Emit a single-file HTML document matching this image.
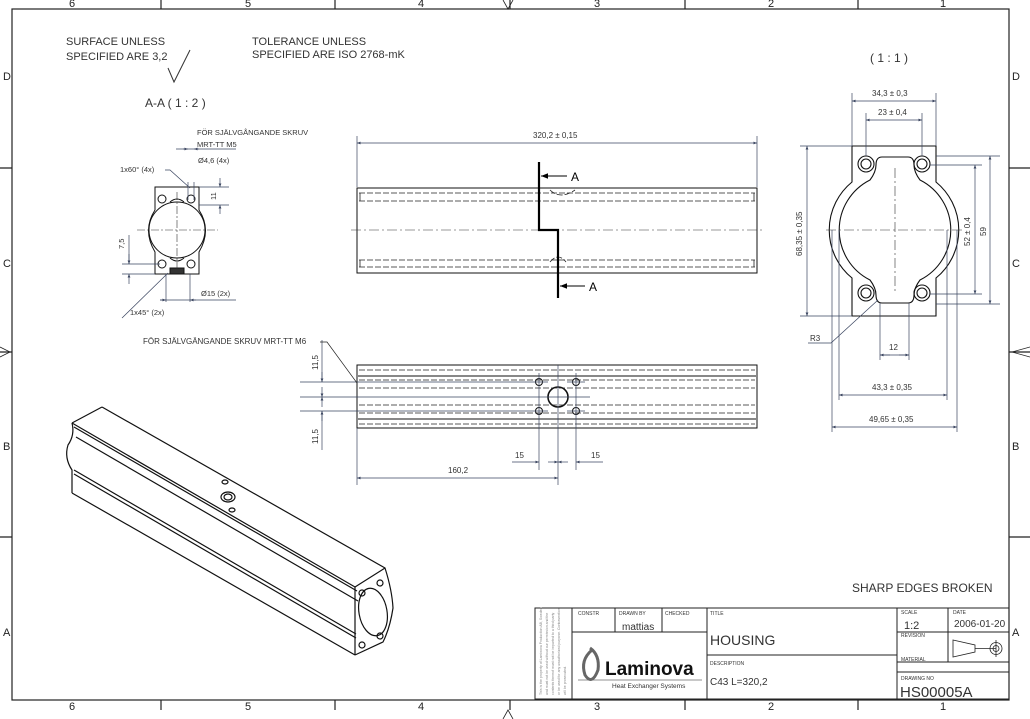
<!DOCTYPE html>
<html><head><meta charset="utf-8"><style>
html,body{margin:0;padding:0;background:#fff;}
svg{display:block;font-family:"Liberation Sans",Arial,sans-serif;}
</style></head><body>
<svg width="1030" height="719" viewBox="0 0 1030 719" xmlns="http://www.w3.org/2000/svg">
<defs>
<marker id="ar" viewBox="0 0 10 10" refX="10" refY="5" markerWidth="7" markerHeight="5" orient="auto-start-reverse"><path d="M0,1 L10,5 L0,9 z" fill="#3a4560"/></marker>
<marker id="ab" viewBox="0 0 10 10" refX="10" refY="5" markerWidth="9" markerHeight="7" orient="auto"><path d="M0,1 L10,5 L0,9 z" fill="#000"/></marker>
</defs>
<rect width="1030" height="719" fill="#fff"/>
<!-- frame -->
<g stroke="#222" stroke-width="1.2" fill="none">
<rect x="12" y="9" width="997" height="691"/>
<path d="M161,0V9 M335,0V9 M510,0V9 M685,0V9 M858,0V9 M161,700V710 M335,700V710 M510,700V710 M685,700V710 M858,700V710 M0,168H12 M0,352H12 M0,537H12 M1009,168H1030 M1009,352H1030 M1009,537H1030"/>
<path d="M503,0 L508,9 L513,0 M503,719 L508,710 L513,719 M0,347 L10,352 L0,357 M1030,347 L1012,352 L1030,357" stroke-width="0.8"/>
</g>
<g font-size="11" fill="#222">
<text x="69" y="7">6</text><text x="245" y="7">5</text><text x="418" y="7">4</text><text x="594" y="7">3</text><text x="768" y="7">2</text><text x="940" y="7">1</text>
<text x="69" y="710">6</text><text x="245" y="710">5</text><text x="418" y="710">4</text><text x="594" y="710">3</text><text x="768" y="710">2</text><text x="940" y="710">1</text>
<text x="3" y="80">D</text><text x="3" y="267">C</text><text x="3" y="450">B</text><text x="3" y="636">A</text>
<text x="1012" y="80">D</text><text x="1012" y="267">C</text><text x="1012" y="450">B</text><text x="1012" y="636">A</text>
</g>
<!-- header notes -->
<g font-size="11" fill="#333">
<text x="66" y="45">SURFACE UNLESS</text>
<text x="66" y="60">SPECIFIED ARE  3,2</text>
<text x="252" y="45">TOLERANCE UNLESS</text>
<text x="252" y="58">SPECIFIED ARE  ISO 2768-mK</text>
<text x="145" y="107" font-size="12">A-A  ( 1 : 2 )</text>
<text x="870" y="62" font-size="12">( 1 : 1 )</text>
<text x="852" y="592" font-size="12">SHARP EDGES BROKEN</text>
</g>
<path d="M168,68 L174,82 L190,50" stroke="#333" fill="none"/>

<!-- ===== Section A-A ===== -->
<g stroke="#111" stroke-width="1" fill="none">
<path d="M155,187 H199 V210 Q212,230 199,252 V274 H155 V252 Q142,230 155,210 Z"/>
<circle cx="177" cy="230" r="28"/>
<path d="M170,202 Q177,196 184,202 M170,258 Q177,264 184,258 M170,268 H184"/>
<circle cx="162" cy="199" r="4"/><circle cx="191" cy="199" r="4"/>
<circle cx="162" cy="264" r="4"/><circle cx="191" cy="264" r="4"/>
<path d="M170,268 H184 V274 H170Z" fill="#333"/>
</g>
<g stroke="#333" stroke-width="0.6" stroke-dasharray="8,2,2,2" fill="none">
<path d="M137,230 H218 M177,192 V270"/>
</g>
<g stroke="#3a4560" stroke-width="0.7" fill="none">
<path d="M188,182 V200 M194,182 V200 M178,149 H236 M176,149 L188,149" />
<path d="M183,149 H188" marker-end="url(#ar)"/><path d="M199,149 H194" marker-end="url(#ar)"/>
<path d="M199,187 H229 M199,205 H229"/>
<path d="M220,178 V187" marker-end="url(#ar)"/><path d="M220,214 V205" marker-end="url(#ar)"/>
<path d="M165,170 H170 L190,188"/>
<path d="M122,264 H160 M122,274 H155 M129,235 V264" />
<path d="M129,254 V264" marker-end="url(#ar)"/><path d="M129,284 V274" marker-end="url(#ar)"/>
<path d="M166,274 V302 M190,274 V302 M160,300 H236"/>
<path d="M160,300 H166" marker-end="url(#ar)"/><path d="M196,300 H190" marker-end="url(#ar)"/>
<path d="M168,273 L122,318"/>
</g>
<g font-size="7.5" fill="#333">
<text x="197" y="135">FÖR SJÄLVGÅNGANDE SKRUV</text>
<text x="197" y="147">MRT-TT M5</text>
<text x="198" y="163">Ø4,6 (4x)</text>
<text x="120" y="172">1x60° (4x)</text>
<text x="201" y="296">Ø15 (2x)</text>
<text x="130" y="315">1x45° (2x)</text>
<text transform="translate(216,200) rotate(-90)">11</text>
<text transform="translate(124,249) rotate(-90)">7,5</text>
</g>

<!-- ===== Top view ===== -->
<g stroke="#111" stroke-width="1" fill="none">
<rect x="357" y="188" width="400" height="85"/>
</g>
<g stroke="#222" stroke-width="0.8" stroke-dasharray="6,2" fill="none">
<path d="M359,193 H755 M359,201 H755 M359,260 H755 M359,267 H755"/>
<path d="M360,193 V201 M754,193 V201 M360,260 V267 M754,260 V267" stroke-dasharray="none"/>
<path d="M550,190 Q560,200 575,190 M550,262 Q558,252 566,262"/>
</g>
<path d="M351,230 H765" stroke="#333" stroke-width="0.6" stroke-dasharray="10,3,2,3"/>
<path d="M539,162 V230 H558 V298" stroke="#000" stroke-width="2.2" fill="none"/>
<path d="M567,176 H541" stroke="#000" stroke-width="1" marker-end="url(#ab)"/>
<path d="M585,286 H560" stroke="#000" stroke-width="1" marker-end="url(#ab)"/>
<text x="571" y="181" font-size="12">A</text>
<text x="589" y="291" font-size="12">A</text>
<g stroke="#3a4560" stroke-width="0.7" fill="none">
<path d="M357,136 V187 M757,136 V187"/>
<path d="M457,143 H357" marker-end="url(#ar)"/><path d="M657,143 H757" marker-end="url(#ar)"/>
<path d="M457,143 H657"/>
</g>
<text x="533" y="138" font-size="8" fill="#333">320,2 ± 0,15</text>

<!-- ===== Bottom view ===== -->
<g stroke="#111" stroke-width="1" fill="none">
<rect x="357" y="365" width="400" height="63"/>
<path d="M358,376 H756 M358,419 H756"/>
<circle cx="558" cy="397" r="10" stroke-width="1.6"/>
<circle cx="539" cy="382" r="3.5"/><circle cx="576" cy="382" r="3.5"/>
<circle cx="539" cy="411" r="3.5"/><circle cx="576" cy="411" r="3.5"/>
</g>
<g stroke="#222" stroke-width="0.8" stroke-dasharray="6,2" fill="none">
<path d="M359,370 H755 M359,380 H755 M359,388 H755 M359,405 H755 M359,413 H755 M359,424 H755"/>
</g>
<g stroke="#3a4560" stroke-width="0.7" fill="none">
<path d="M300,382 H535 M300,397 H590 M300,411 H535 M530,382 H548 M567,382 H585 M530,411 H548 M567,411 H585 M539,373 V470 M576,373 V470 M558,365 V485 M357,428 V485"/>
<path d="M322,340 V382 M322,411 V450"/>
<path d="M322,372 V382" marker-end="url(#ar)"/><path d="M322,387 V397" marker-end="url(#ar)"/>
<path d="M322,407 V397" marker-end="url(#ar)"/><path d="M322,421 V411" marker-end="url(#ar)"/>
<path d="M512,462 H539" marker-end="url(#ar)"/><path d="M548,462 H558" marker-end="url(#ar)"/>
<path d="M568,462 H558" marker-end="url(#ar)"/><path d="M603,462 H576" marker-end="url(#ar)"/>
<path d="M455,478 H357" marker-end="url(#ar)"/><path d="M455,478 H558" marker-end="url(#ar)"/>
<path d="M320,342 H327 L357,383" stroke="#222"/>
</g>
<g font-size="8" fill="#333">
<text x="143" y="344">FÖR SJÄLVGÄNGANDE SKRUV MRT-TT M6</text>
<text transform="translate(318,370) rotate(-90)">11,5</text>
<text transform="translate(318,444) rotate(-90)">11,5</text>
<text x="515" y="458">15</text><text x="591" y="458">15</text>
<text x="448" y="473">160,2</text>
</g>

<!-- ===== Right end view ===== -->
<g stroke="#111" stroke-width="1.1" fill="none">
<path d="M852,146 H936 V182 A62,62 0 0 1 936,278 V316 H852 V278 A62,62 0 0 1 852,182 Z"/>
<path d="M882,157 Q876,157 876,165 Q876,172 870,180 A56,56 0 0 0 870,280 Q876,288 876,295 Q876,303 882,303 H908 Q914,303 914,295 Q914,288 920,280 A56,56 0 0 0 920,180 Q914,172 914,165 Q914,157 908,157 Z"/>
<circle cx="866" cy="164" r="8"/><circle cx="866" cy="164" r="5"/>
<circle cx="922" cy="164" r="8"/><circle cx="922" cy="164" r="5"/>
<circle cx="866" cy="293" r="8"/><circle cx="866" cy="293" r="5"/>
<circle cx="922" cy="293" r="8"/><circle cx="922" cy="293" r="5"/>
</g>
<g stroke="#333" stroke-width="0.6" stroke-dasharray="10,3,2,3" fill="none">
<path d="M826,230 H962 M895,168 V292"/>
</g>
<g stroke="#3a4560" stroke-width="0.7" fill="none">
<path d="M852,93 V146 M936,93 V146 M866,113 V156 M922,113 V156"/>
<path d="M894,101 H852" marker-end="url(#ar)"/><path d="M894,101 H936" marker-end="url(#ar)"/>
<path d="M894,120 H866" marker-end="url(#ar)"/><path d="M894,120 H922" marker-end="url(#ar)"/>
<path d="M800,146 H852 M800,316 H852"/>
<path d="M807,230 V146" marker-end="url(#ar)"/><path d="M807,230 V316" marker-end="url(#ar)"/>
<path d="M936,156 H1000 M936,304 H1000 M930,165 H982 M930,294 H982"/>
<path d="M975,230 V165" marker-end="url(#ar)"/><path d="M975,230 V294" marker-end="url(#ar)"/>
<path d="M990,230 V156" marker-end="url(#ar)"/><path d="M990,230 V304" marker-end="url(#ar)"/>
<path d="M880,303 V360 M909,303 V360"/>
<path d="M880,355 H909"/><path d="M890,355 H880" marker-end="url(#ar)"/><path d="M899,355 H909" marker-end="url(#ar)"/>
<path d="M839,230 V400 M947,230 V400 M832,230 V432 M957,230 V432"/>
<path d="M893,395 H839" marker-end="url(#ar)"/><path d="M893,395 H947" marker-end="url(#ar)"/>
<path d="M893,427 H832" marker-end="url(#ar)"/><path d="M893,427 H957" marker-end="url(#ar)"/>
<path d="M808,343 H831 L878,300"/>
</g>
<g font-size="8" fill="#333">
<text x="872" y="96">34,3 ± 0,3</text>
<text x="878" y="115">23 ± 0,4</text>
<text transform="translate(802,256) rotate(-90)">68,35 ± 0,35</text>
<text transform="translate(970,246) rotate(-90)">52 ± 0,4</text>
<text transform="translate(986,236) rotate(-90)">59</text>
<text x="810" y="341">R3</text>
<text x="889" y="350">12</text>
<text x="872" y="390">43,3 ± 0,35</text>
<text x="869" y="422">49,65 ± 0,35</text>
</g>

<!-- ===== Isometric ===== -->
<g stroke="#111" stroke-width="1.2" fill="none" stroke-linejoin="round">
<path d="M102,407 L385,568"/>
<path d="M72,423 L102,407"/>
<path d="M72,423 L355,587"/>
<path d="M74,427 L357,591"/>
<path d="M72,423 Q75,435 68,445 Q64,458 72,470 L72,493"/>
<path d="M72,493 L355,655"/>
<path d="M76,437 L358,601"/>
<path d="M74,470 L356,634"/>
<path d="M74,474 L356,638"/>
<path d="M355,587 L385,568 Q392,590 393,608 Q390,628 383,642 L355,655"/>
<path d="M355,587 V655"/>
<ellipse cx="373" cy="612" rx="14" ry="24" transform="rotate(-10 373 612)"/>
<circle cx="362" cy="593" r="3"/><circle cx="380" cy="583" r="3"/>
<circle cx="362" cy="645" r="3"/><circle cx="380" cy="636" r="3"/>
<ellipse cx="228" cy="497" rx="7" ry="5"/>
<ellipse cx="228" cy="497" rx="4" ry="3"/>
<ellipse cx="225" cy="482" rx="3" ry="2"/>
<ellipse cx="232" cy="510" rx="3" ry="2"/>
</g>

<!-- ===== Title block ===== -->
<g stroke="#222" stroke-width="1" fill="none">
<rect x="535" y="608" width="474" height="91"/>
<path d="M572,608 V699 M615,608 V632 M662,608 V632 M707,608 V699 M572,632 H707 M707,655 H897 M897,608 V699 M948,608 V662 M897,632 H1009 M897,662 H1009 M897,672 H1009"/>
<path d="M578,680 H702" stroke-width="0.6"/>
</g>
<g fill="#333">
<text font-size="5" x="578" y="615">CONSTR</text>
<text font-size="5" x="619" y="615">DRAWN BY</text>
<text font-size="5" x="665" y="615">CHECKED</text>
<text font-size="10" x="622" y="630">mattias</text>
<text font-size="5" x="710" y="615">TITLE</text>
<text font-size="14" x="710" y="645">HOUSING</text>
<text font-size="5" x="710" y="665">DESCRIPTION</text>
<text font-size="10" x="710" y="685">C43  L=320,2</text>
<text font-size="5" x="901" y="614">SCALE</text>
<text font-size="5" x="953" y="614">DATE</text>
<text font-size="11" x="904" y="629">1:2</text>
<text font-size="10" x="954" y="627">2006-01-20</text>
<text font-size="5" x="901" y="637">REVISION</text>
<text font-size="5" x="901" y="661">MATERIAL</text>
<text font-size="5" x="901" y="680">DRAWING NO</text>
<text font-size="15" x="900" y="697">HS00005A</text>
<text font-size="19" font-weight="bold" x="605" y="675" fill="#111">Laminova</text>
<text font-size="6.5" x="612" y="688">Heat Exchanger Systems</text>
</g>
<path d="M592,650 Q580,660 585,675 Q592,686 598,670 Q600,655 590,648" stroke="#666" stroke-width="3" fill="none"/>
<g stroke="#222" stroke-width="0.8" fill="none">
<path d="M953,640 L975,645 V652 L953,657 Z M975,648.5 H996"/>
<circle cx="996" cy="648.5" r="6"/><circle cx="996" cy="648.5" r="3"/>
<path d="M996,640 V657"/>
</g>
<g fill="#888" font-size="3.5">
<text transform="translate(542,695) rotate(-90)">This is the property of Laminova Production AB, Sweden</text>
<text transform="translate(548,695) rotate(-90)">and must not be used without our permission and the</text>
<text transform="translate(554,695) rotate(-90)">contents thereof must not be imparted to a third party</text>
<text transform="translate(560,695) rotate(-90)">or be used for any unauthorized purpose. Contravention</text>
<text transform="translate(566,695) rotate(-90)">will be prosecuted.</text>
</g>
</svg>
</body></html>
